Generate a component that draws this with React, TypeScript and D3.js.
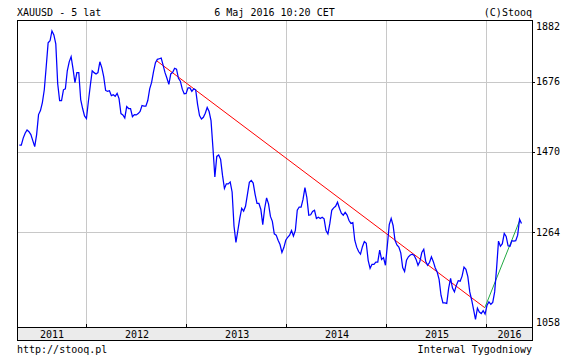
import React from "react";
import * as d3 from "d3";

// ---- data (weekly closes, XAUUSD) ----
const START_DATE = new Date(2011, 3, 29); // first weekly bar (Friday)
const prices: number[] = [
  1488, 1488, 1508, 1522, 1531, 1526, 1518, 1501, 1484, 1518,
  1576, 1588, 1612, 1651, 1724, 1803, 1810, 1844, 1830, 1800,
  1670, 1618, 1618, 1651, 1654, 1711, 1740, 1757, 1717, 1673,
  1705, 1705, 1621, 1594, 1572, 1564, 1615, 1664, 1711, 1705,
  1701, 1705, 1740, 1721, 1692, 1649, 1646, 1648, 1633, 1636,
  1631, 1640, 1624, 1579, 1575, 1566, 1600, 1594, 1594, 1570,
  1576, 1575, 1579, 1585, 1603, 1601, 1601, 1618, 1654, 1674,
  1708, 1737, 1748, 1750, 1752, 1729, 1705, 1687, 1668, 1701,
  1706, 1719, 1716, 1687, 1678, 1653, 1639, 1640, 1657, 1657,
  1646, 1654, 1651, 1606, 1573, 1563, 1568, 1580, 1597, 1585,
  1558, 1481, 1402, 1457, 1461, 1449, 1406, 1372, 1384, 1384,
  1389, 1363, 1278, 1240, 1268, 1297, 1322, 1315, 1327, 1357,
  1388, 1393, 1386, 1357, 1334, 1334, 1319, 1282, 1322, 1348,
  1333, 1302, 1290, 1260, 1257, 1245, 1235, 1217, 1228, 1245,
  1252, 1257, 1268, 1255, 1268, 1317, 1325, 1325, 1344, 1374,
  1349, 1305, 1306, 1314, 1317, 1297, 1300, 1297, 1300, 1296,
  1268, 1260, 1285, 1317, 1323, 1327, 1337, 1322, 1310, 1305,
  1312, 1305, 1292, 1285, 1287, 1245, 1229, 1219, 1213, 1230,
  1242, 1238, 1199, 1181, 1190, 1190, 1195, 1195, 1222, 1201,
  1205, 1188, 1233, 1282, 1297, 1280, 1245, 1234, 1229, 1216,
  1183, 1174, 1199, 1207, 1211, 1213, 1210, 1201, 1188, 1197,
  1217, 1224, 1197, 1188, 1194, 1207, 1196, 1182, 1173, 1157,
  1123, 1107, 1107, 1106, 1138, 1159, 1138, 1130, 1144, 1154,
  1153, 1164, 1184, 1179, 1163, 1130, 1113, 1093, 1073, 1096,
  1088, 1085, 1091, 1084, 1102, 1109, 1104, 1108, 1130, 1181,
  1243, 1231, 1237, 1261, 1254, 1232, 1231, 1244, 1243, 1244,
  1257, 1295, 1285,
];

const redTrendDates = [new Date(2012, 8, 12), new Date(2015, 11, 24)];
const redTrendValues = [1743, 1097];
const greenTrendDates = [new Date(2015, 11, 24), new Date(2016, 3, 30)];
const greenTrendValues = [1097, 1293];

const yTickValues = [1882, 1676, 1470, 1264, 1058];
const yearLabels = ["2011", "2012", "2013", "2014", "2015", "2016"];

const TITLE = "XAUUSD - 5 lat";
const DATE_TEXT = "6 Maj 2016 10:20 CET";
const COPY = "(C)Stooq";
const URL_TEXT = "http://stooq.pl";
const INTERVAL = "Interwal Tygodniowy";

// ---- layout ----
const W = 575;
const H = 359;
const L = 17;
const R = 532;
const T = 20;
const B = 327;
const BAND_B = 340;
const FONT = "'DejaVu Sans Mono', 'Liberation Mono', monospace";

export default function App() {
  const dates = prices.map((_, i) => d3.timeDay.offset(START_DATE, i * 7));

  const x = d3
    .scaleTime()
    .domain([new Date(2012, 0, 1), new Date(2016, 0, 1)])
    .range([87, 487]);
  const y = d3.scaleLog().domain([1058, 1882]).range([B, T]);

  const line = d3
    .line<number>()
    .x((_, i) => x(dates[i]))
    .y((d) => y(d));

  const trend = d3
    .line<[Date, number]>()
    .x((d) => x(d[0]))
    .y((d) => y(d[1]));

  const redPts: [Date, number][] = redTrendDates.map((d, i) => [d, redTrendValues[i]]);
  const greenPts: [Date, number][] = greenTrendDates.map((d, i) => [d, greenTrendValues[i]]);

  const yearStarts = yearLabels.map((yl) => new Date(+yl, 0, 1));
  const boundaries = yearStarts.slice(1).map((d) => Math.round(x(d)) - 0.5);

  const gridY = yTickValues.filter((v, i) => i > 0 && i < yTickValues.length - 1);

  return (
    <svg width={W} height={H} style={{ display: "block", position: "absolute", left: 0, top: 0 }}>
      <rect x={0} y={0} width={W} height={H} fill="#ffffff" />
      {/* grid */}
      {gridY.map((v) => (
        <line key={"gy" + v} x1={L + 1} x2={R} y1={Math.round(y(v)) + 0.5} y2={Math.round(y(v)) + 0.5} stroke="#c8c8c8" strokeWidth={1} />
      ))}
      {boundaries.map((bx, i) => (
        <line key={"gx" + i} x1={bx} x2={bx} y1={T + 1} y2={B} stroke="#c8c8c8" strokeWidth={1} />
      ))}
      {/* bottom ticks */}
      {boundaries.map((bx, i) => (
        <line key={"tx" + i} x1={bx} x2={bx} y1={B - 3} y2={B} stroke="#000" strokeWidth={1} />
      ))}
      {/* trend lines */}
      <path d={trend(redPts) || ""} fill="none" stroke="#ff0000" strokeWidth={1} />
      <path d={trend(greenPts) || ""} fill="none" stroke="#22aa44" strokeWidth={1} />
      {/* price line */}
      <path d={line(prices) || ""} fill="none" stroke="#0000ff" strokeWidth={1.25} strokeLinejoin="miter" />
      {/* frame */}
      <rect x={L + 0.5} y={T + 0.5} width={R - L} height={B - T} fill="none" stroke="#000" strokeWidth={1} />
      {/* year band */}
      <rect x={L + 0.5} y={B + 0.5} width={R - L} height={BAND_B - B} fill="#ebebeb" stroke="#000" strokeWidth={1} />
      {yearLabels.map((yl, i) => {
        const a = Math.max(L, x(yearStarts[i]));
        const b = Math.min(R, i + 1 < yearStarts.length ? x(yearStarts[i + 1]) : x(new Date(+yl + 1, 0, 1)));
        return (
          <text key={yl} x={(a + b) / 2} y={B + 11} textAnchor="middle" fontFamily={FONT} fontSize={10} fill="#000">
            {yl}
          </text>
        );
      })}
      {/* right axis */}
      {gridY.map((v) => (
        <line key={"ty" + v} x1={R} x2={R + 3} y1={Math.round(y(v)) + 0.5} y2={Math.round(y(v)) + 0.5} stroke="#000" strokeWidth={1} />
      ))}
      {yTickValues.map((v) => {
        const yy = Math.min(B - 5, Math.max(T + 6, y(v)));
        return (
          <text key={"ly" + v} x={R + 4} y={yy + 3.5} fontFamily={FONT} fontSize={10} fill="#000">
            {v}
          </text>
        );
      })}
      {/* header / footer */}
      <text x={L} y={16} fontFamily={FONT} fontSize={10} fill="#000">{TITLE}</text>
      <text x={(L + R) / 2} y={16} textAnchor="middle" fontFamily={FONT} fontSize={10} fill="#000">{DATE_TEXT}</text>
      <text x={R} y={16} textAnchor="end" fontFamily={FONT} fontSize={10} fill="#000">{COPY}</text>
      <text x={L} y={353} fontFamily={FONT} fontSize={10} fill="#000">{URL_TEXT}</text>
      <text x={R} y={353} textAnchor="end" fontFamily={FONT} fontSize={10} fill="#000">{INTERVAL}</text>
    </svg>
  );
}
